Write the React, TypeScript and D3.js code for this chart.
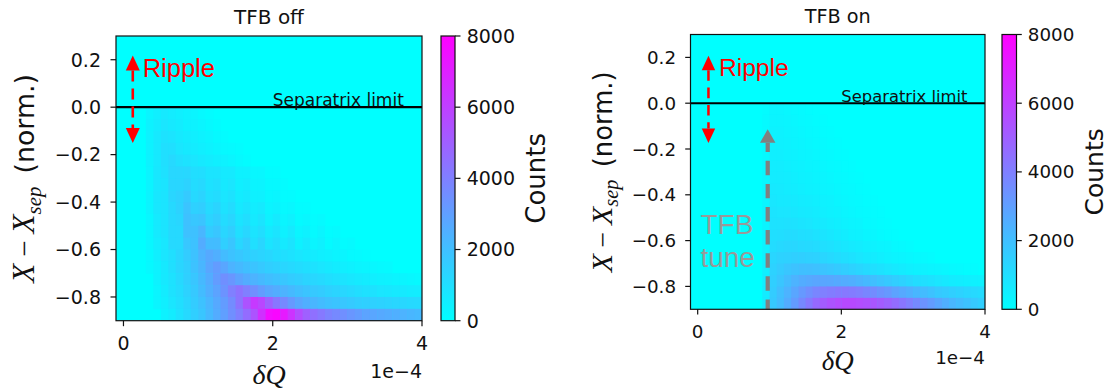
import React from "react";
import * as d3 from "d3";

// ---------- data ----------
// δQ bin edges (units of 1e-4)
const xBinEdges = [
  -0.1, 0, 0.1, 0.2, 0.3, 0.4, 0.5, 0.6, 0.7, 0.8, 0.9, 1.0, 1.1, 1.2, 1.3, 1.4, 1.5, 1.6, 1.7, 1.8, 1.9, 2.0,
  2.1, 2.2, 2.3, 2.4, 2.5, 2.6, 2.7, 2.8, 2.9, 3.0, 3.1, 3.2, 3.3, 3.4, 3.5, 3.6, 3.7, 3.8, 3.9, 4.0,
];
// X - Xsep bin edges, top row first
const yBinEdges = [0, -0.05, -0.1, -0.15, -0.2, -0.25, -0.3, -0.35, -0.4, -0.45, -0.5, -0.55, -0.6, -0.65, -0.7, -0.75, -0.8, -0.85, -0.9];

// Counts per cell (row = y bin from top, column = δQ bin). Missing trailing cells are 0.
const countsOff: number[][] = [
  [0, 0, 0, 0, 300, 500, 700, 600, 500, 400, 300, 200, 100],
  [0, 0, 0, 0, 400, 600, 800, 700, 600, 450, 400, 300, 200, 100],
  [0, 0, 0, 0, 400, 700, 900, 850, 700, 600, 500, 400, 300, 200, 100],
  [0, 0, 0, 0, 400, 700, 1000, 1000, 800, 700, 600, 500, 400, 300, 200, 150, 100],
  [0, 0, 0, 0, 400, 700, 1000, 1200, 1000, 900, 800, 700, 600, 500, 400, 300, 200, 100],
  [0, 0, 0, 0, 350, 750, 950, 1250, 1250, 1250, 1050, 1050, 850, 850, 650, 650, 450, 450, 250, 250, 100, 100],
  [0, 0, 0, 0, 350, 750, 850, 1300, 1300, 1400, 1100, 1200, 900, 1000, 700, 800, 500, 600, 350, 350, 200, 200, 100],
  [0, 0, 0, 0, 350, 750, 850, 1300, 1400, 1650, 1200, 1350, 1000, 1100, 800, 900, 600, 700, 450, 450, 250, 300, 100, 100],
  [0, 0, 0, 0, 350, 750, 850, 1200, 1400, 1850, 1450, 1550, 1150, 1350, 900, 1100, 700, 850, 550, 650, 350, 450, 200, 250, 100, 100],
  [0, 0, 0, 0, 250, 650, 850, 1200, 1300, 1950, 1750, 1850, 1350, 1550, 1100, 1300, 850, 1050, 650, 850, 450, 650, 300, 450, 150, 250, 100, 150],
  [0, 0, 0, 0, 250, 650, 850, 1200, 1200, 1950, 1950, 2300, 1600, 1800, 1300, 1500, 1000, 1250, 850, 1050, 650, 850, 450, 650, 300, 450, 150, 300, 100, 150],
  [0, 0, 0, 0, 250, 550, 750, 1200, 1200, 1750, 1900, 2600, 2100, 2100, 1500, 1800, 1250, 1550, 1000, 1300, 850, 1050, 650, 850, 450, 650, 300, 450, 150, 300, 100, 150],
  [0, 0, 0, 0, 200, 500, 800, 1000, 1300, 1600, 1900, 2400, 2700, 2500, 2100, 1900, 1750, 1600, 1450, 1350, 1250, 1100, 1000, 900, 800, 700, 600, 500, 450, 350, 300, 200, 150, 100],
  [0, 0, 0, 0, 200, 400, 700, 1000, 1300, 1500, 1900, 2300, 2800, 3100, 2800, 2400, 2200, 2000, 1850, 1700, 1550, 1450, 1300, 1200, 1100, 1000, 900, 800, 700, 600, 500, 450, 350, 300, 250, 200, 150],
  [0, 0, 0, 0, 0, 400, 700, 900, 1200, 1500, 1800, 2200, 2600, 3100, 3500, 3300, 2900, 2600, 2400, 2200, 2050, 1900, 1750, 1600, 1500, 1350, 1250, 1150, 1050, 950, 850, 750, 650, 600, 500, 450, 400, 350, 300, 250, 200],
  [0, 0, 0, 0, 0, 300, 600, 900, 1100, 1400, 1700, 2100, 2500, 2900, 3400, 4000, 4400, 4000, 3500, 3100, 2800, 2600, 2400, 2200, 2000, 1850, 1700, 1600, 1450, 1350, 1250, 1150, 1050, 950, 900, 800, 750, 700, 650, 600, 550],
  [0, 0, 0, 0, 0, 300, 500, 800, 1000, 1300, 1600, 1900, 2300, 2700, 3100, 3600, 4400, 5400, 6200, 5800, 5000, 4300, 3700, 3200, 2800, 2500, 2300, 2100, 1950, 1850, 1750, 1650, 1550, 1500, 1450, 1400, 1350, 1300, 1250, 1200, 1150],
  [0, 0, 0, 0, 0, 0, 400, 600, 900, 1200, 1500, 1800, 2200, 2600, 3000, 3500, 4000, 4600, 5400, 6500, 7600, 7800, 7200, 6400, 5600, 5000, 4500, 4200, 3900, 3700, 3500, 3300, 3100, 2900, 2800, 2700, 2600, 2500, 2400, 2300, 2200],
];

const countsOn: number[][] = [
  [0, 0, 0, 0, 0, 0, 0, 0, 0, 0, 100, 300, 300, 250, 200, 150, 100, 50],
  [0, 0, 0, 0, 0, 0, 0, 0, 0, 0, 150, 350, 350, 300, 250, 200, 150, 100, 50],
  [0, 0, 0, 0, 0, 0, 0, 0, 0, 0, 150, 400, 400, 350, 300, 250, 200, 150, 100, 50],
  [0, 0, 0, 0, 0, 0, 0, 0, 0, 0, 200, 450, 450, 400, 350, 300, 250, 200, 150, 100, 50],
  [0, 0, 0, 0, 0, 0, 0, 0, 0, 0, 200, 500, 500, 450, 400, 350, 300, 250, 200, 150, 100, 50],
  [0, 0, 0, 0, 0, 0, 0, 0, 0, 0, 250, 550, 550, 500, 450, 400, 350, 300, 250, 200, 150, 100, 50],
  [0, 0, 0, 0, 0, 0, 0, 0, 0, 0, 250, 600, 600, 550, 500, 450, 400, 350, 300, 250, 200, 150, 100, 50],
  [0, 0, 0, 0, 0, 0, 0, 0, 0, 0, 300, 700, 650, 600, 550, 500, 450, 400, 350, 300, 250, 200, 150, 100, 50],
  [0, 0, 0, 0, 0, 0, 0, 0, 0, 0, 300, 750, 700, 700, 650, 600, 550, 500, 450, 400, 300, 250, 200, 150, 100, 50],
  [0, 0, 0, 0, 0, 0, 0, 0, 0, 0, 350, 850, 800, 800, 750, 700, 650, 600, 500, 450, 400, 300, 250, 200, 150, 100, 50],
  [0, 0, 0, 0, 0, 0, 0, 0, 0, 0, 350, 900, 900, 950, 900, 850, 800, 700, 650, 550, 500, 400, 350, 300, 200, 150, 100, 50],
  [0, 0, 0, 0, 0, 0, 0, 0, 0, 0, 400, 1000, 1050, 1100, 1100, 1050, 1000, 900, 850, 750, 650, 550, 450, 400, 300, 250, 150, 100, 50],
  [0, 0, 0, 0, 0, 0, 0, 0, 0, 0, 400, 1100, 1200, 1250, 1250, 1200, 1150, 1100, 1000, 950, 850, 750, 650, 600, 500, 400, 350, 300, 200, 150, 100],
  [0, 0, 0, 0, 0, 0, 0, 0, 0, 0, 450, 1300, 1400, 1450, 1500, 1500, 1450, 1400, 1300, 1200, 1100, 1000, 900, 800, 700, 600, 500, 400, 350, 300, 250, 200, 150, 100],
  [0, 0, 0, 0, 0, 0, 0, 0, 0, 0, 500, 1400, 1600, 1800, 1900, 2000, 2000, 1950, 1850, 1750, 1650, 1550, 1400, 1300, 1150, 1000, 900, 800, 700, 600, 500, 450, 400, 350, 300, 250, 200, 150, 100, 100],
  [0, 0, 0, 0, 0, 0, 0, 0, 0, 0, 550, 1500, 1800, 2100, 2400, 2600, 2700, 2800, 2800, 2750, 2700, 2600, 2500, 2350, 2200, 2000, 1850, 1700, 1550, 1400, 1250, 1100, 1000, 900, 800, 700, 600, 550, 500, 450, 400],
  [0, 0, 0, 0, 0, 0, 0, 0, 0, 0, 600, 1600, 2000, 2400, 2800, 3200, 3500, 3800, 4000, 4100, 4200, 4200, 4100, 4000, 3800, 3600, 3400, 3200, 2900, 2700, 2500, 2300, 2100, 1900, 1700, 1600, 1500, 1400, 1300, 1200, 1100],
  [0, 0, 0, 0, 0, 0, 0, 0, 0, 0, 600, 1700, 2100, 2600, 3100, 3700, 4200, 4700, 5100, 5400, 5600, 5700, 5700, 5600, 5500, 5300, 5100, 4900, 4600, 4300, 4000, 3700, 3400, 3100, 2800, 2500, 2300, 2100, 1900, 1700, 1500],
];

const xTickValues = [0, 2, 4];
const yTickValues = [-0.8, -0.6, -0.4, -0.2, 0.0, 0.2];
const cbTickValues = [0, 2000, 4000, 6000, 8000];
const panelTitles = ["TFB off", "TFB on"];
const xDomain = [-0.1, 4];
const yDomain = [-0.9, 0.3];
const countMax = 8000;
const separatrixLevel = 0;

// ---------- layout ----------
type Geo = { left: number; right: number; top: number; bottom: number; cbLeft: number; cbRight: number; s: number };
const geoOff: Geo = { left: 116, right: 422, top: 36, bottom: 320.7, cbLeft: 441, cbRight: 455, s: 1 };
const geoOn: Geo = { left: 690.5, right: 985, top: 34.5, bottom: 309.3, cbLeft: 1002, cbRight: 1016.5, s: 0.963 };

type Ann = {
  rippleX: number; rippleTop: number; rippleBot: number; rippleTextX: number; rippleTextY: number;
  sepTextX: number;
  tfb?: { x: number; y0: number; y1: number; textX: number; textY1: number; textY2: number };
};
const annOff: Ann = { rippleX: 0.125, rippleTop: 0.218, rippleBot: -0.151, rippleTextX: 0.257, rippleTextY: 0.126, sepTextX: 2.0 };
const annOn: Ann = {
  rippleX: 0.15, rippleTop: 0.207, rippleBot: -0.174, rippleTextX: 0.297, rippleTextY: 0.12, sepTextX: 2.0,
  tfb: { x: 0.975, y0: -0.92, y1: -0.114, textX: 0.04, textY1: -0.57, textY2: -0.717 },
};

const SANS = "'DejaVu Sans', sans-serif";
const ARIAL = "'Liberation Sans', Arial, sans-serif";
const SERIF = "'Liberation Serif', 'DejaVu Serif', serif";

function Arrow(props: {
  x1: number; y1: number; x2: number; y2: number; color: string; width: number; dash: string;
  headLen: number; headW: number; both?: boolean;
}) {
  const { x1, y1, x2, y2, color, width, dash, headLen, headW, both } = props;
  const dx = x2 - x1, dy = y2 - y1;
  const L = Math.hypot(dx, dy);
  const ux = dx / L, uy = dy / L;
  const px = -uy, py = ux;
  const head = (tx: number, ty: number, dirx: number, diry: number) => {
    const bx = tx - dirx * headLen, by = ty - diry * headLen;
    return `${tx},${ty} ${bx + px * headW / 2},${by + py * headW / 2} ${bx - px * headW / 2},${by - py * headW / 2}`;
  };
  const sx = both ? x1 + ux * headLen : x1;
  const sy = both ? y1 + uy * headLen : y1;
  const ex = x2 - ux * headLen, ey = y2 - uy * headLen;
  return (
    <g>
      <line x1={sx} y1={sy} x2={ex} y2={ey} stroke={color} strokeWidth={width} strokeDasharray={dash} />
      <polygon points={head(x2, y2, ux, uy)} fill={color} />
      {both ? <polygon points={head(x1, y1, -ux, -uy)} fill={color} /> : null}
    </g>
  );
}

function Panel({ geo, counts, title, ann, id }: { geo: Geo; counts: number[][]; title: string; ann: Ann; id: string }) {
  const { left, right, top, bottom, cbLeft, cbRight, s } = geo;
  const x = d3.scaleLinear().domain(xDomain).range([left, right]);
  const y = d3.scaleLinear().domain(yDomain).range([bottom, top]);
  const color = d3.scaleLinear<string>().domain([0, countMax]).range(["#00ffff", "#ff00ff"]).clamp(true);
  const cb = d3.scaleLinear().domain([0, countMax]).range([bottom, top]);
  const fmtY = d3.format(".1f");
  const fmtInt = d3.format("d");
  const tickFs = 19 * s;
  const labelFs = 26.8 * s;
  const cx = (left + right) / 2;
  const cy = (top + bottom) / 2;

  const cells: React.ReactElement[] = [];
  counts.forEach((row, r) => {
    row.forEach((v, c) => {
      if (v <= 0) return;
      const x0 = x(xBinEdges[c]), x1 = x(xBinEdges[c + 1]);
      const y0 = y(yBinEdges[r]), y1 = y(yBinEdges[r + 1]);
      cells.push(<rect key={`${r}-${c}`} x={x0} y={y0} width={x1 - x0 + 0.5} height={y1 - y0 + 0.5} fill={color(v)} />);
    });
  });

  return (
    <g>
      <defs>
        <clipPath id={`clip-${id}`}>
          <rect x={left} y={top} width={right - left} height={bottom - top} />
        </clipPath>
        <linearGradient id={`grad-${id}`} x1="0" y1="1" x2="0" y2="0">
          <stop offset="0" stopColor={color(0)} />
          <stop offset="1" stopColor={color(countMax)} />
        </linearGradient>
      </defs>
      {/* heatmap */}
      <g clipPath={`url(#clip-${id})`}>
        <rect x={left} y={top} width={right - left} height={bottom - top} fill={color(0)} />
        {cells}
        <line x1={left} x2={right} y1={y(separatrixLevel)} y2={y(separatrixLevel)} stroke="#000" strokeWidth={2.2 * s} />
        <text x={x(ann.sepTextX)} y={y(separatrixLevel) - 1.5 * s} fontFamily={SANS} fontSize={17 * s} fill="#111">Separatrix limit</text>
        <Arrow x1={x(ann.rippleX)} y1={y(ann.rippleTop)} x2={x(ann.rippleX)} y2={y(ann.rippleBot)} color="#ff0000"
          width={2.6 * s} dash={`${11 * s},${7 * s}`} headLen={15 * s} headW={14 * s} both />
        <text x={x(ann.rippleTextX)} y={y(ann.rippleTextY)} fontFamily={ARIAL} fontSize={25.5 * s} fill="#ff0000">Ripple</text>
        {ann.tfb ? (
          <g>
            <Arrow x1={x(ann.tfb.x)} y1={y(ann.tfb.y0)} x2={x(ann.tfb.x)} y2={y(ann.tfb.y1)} color="#808080"
              width={4.4 * s} dash={`${15 * s},${9 * s}`} headLen={14 * s} headW={16 * s} />
            <text x={x(ann.tfb.textX)} y={y(ann.tfb.textY1)} fontFamily={ARIAL} fontSize={29 * s} fill="#999999">TFB</text>
            <text x={x(ann.tfb.textX)} y={y(ann.tfb.textY2)} fontFamily={ARIAL} fontSize={29 * s} fill="#999999">tune</text>
          </g>
        ) : null}
      </g>
      <rect x={left} y={top} width={right - left} height={bottom - top} fill="none" stroke="#111" strokeWidth={1.2} />

      {/* x axis */}
      {xTickValues.map((v) => (
        <g key={`xt${v}`}>
          <line x1={x(v)} x2={x(v)} y1={bottom} y2={bottom + 5.5 * s} stroke="#111" strokeWidth={1.2} />
          <text x={x(v)} y={bottom + 29.3 * s} textAnchor="middle" fontFamily={SANS} fontSize={tickFs} fill="#111">{fmtInt(v)}</text>
        </g>
      ))}
      <text x={right} y={bottom + 57 * s} textAnchor="end" fontFamily={SANS} fontSize={tickFs} fill="#111">{"1e\u22124"}</text>
      <text x={cx} y={bottom + 63 * s} textAnchor="middle" fontFamily={SERIF} fontStyle="italic" fontSize={28 * s} fill="#111">δQ</text>

      {/* y axis */}
      {yTickValues.map((v) => (
        <g key={`yt${v}`}>
          <line x1={left - 5.5 * s} x2={left} y1={y(v)} y2={y(v)} stroke="#111" strokeWidth={1.2} />
          <text x={left - 15 * s} y={y(v)} dy="0.36em" textAnchor="end" fontFamily={SANS} fontSize={tickFs} fill="#111">{fmtY(v)}</text>
        </g>
      ))}
      <text transform={`translate(${left - 82 * s},${cy}) rotate(-90)`} textAnchor="middle" fontFamily={SANS} fontSize={labelFs} fill="#111">
        <tspan fontFamily={SERIF} fontStyle="italic" fontSize={31 * s}>X</tspan>
        <tspan fontFamily={SERIF} fontSize={29 * s} dx={7 * s}>{"\u2212"}</tspan>
        <tspan fontFamily={SERIF} fontStyle="italic" fontSize={31 * s} dx={7 * s}>X</tspan>
        <tspan fontFamily={SERIF} fontStyle="italic" fontSize={21 * s} dy={7 * s}>sep</tspan>
        <tspan dy={-7 * s} dx={13 * s}>(norm.)</tspan>
      </text>

      {/* title */}
      <text x={cx} y={top - 12 * s} textAnchor="middle" fontFamily={SANS} fontSize={20 * s} fill="#111">{title}</text>

      {/* colorbar */}
      <rect x={cbLeft} y={top} width={cbRight - cbLeft} height={bottom - top} fill={`url(#grad-${id})`} stroke="#111" strokeWidth={1.2} />
      {cbTickValues.map((v) => (
        <g key={`ct${v}`}>
          <line x1={cbRight} x2={cbRight + 5.5 * s} y1={cb(v)} y2={cb(v)} stroke="#111" strokeWidth={1.2} />
          <text x={cbRight + 11.7 * s} y={cb(v)} dy="0.36em" fontFamily={SANS} fontSize={tickFs} fill="#111">{fmtInt(v)}</text>
        </g>
      ))}
      <text transform={`translate(${cbRight + 90 * s},${cy}) rotate(-90)`} textAnchor="middle" fontFamily={SANS} fontSize={26 * s} fill="#111">Counts</text>
    </g>
  );
}

export default function App() {
  return (
    <svg width={1114} height={392} viewBox="0 0 1114 392" style={{ position: "absolute", left: 0, top: 0, background: "#fff" }}>
      <rect x={0} y={0} width={1114} height={392} fill="#fff" />
      <Panel geo={geoOff} counts={countsOff} title={panelTitles[0]} ann={annOff} id="off" />
      <Panel geo={geoOn} counts={countsOn} title={panelTitles[1]} ann={annOn} id="on" />
    </svg>
  );
}
